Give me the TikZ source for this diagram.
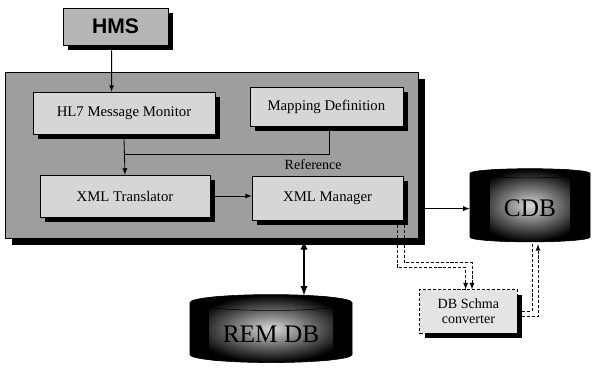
\documentclass[tikz,border=0pt]{standalone}
\usepackage{fontspec}
\setmainfont{Liberation Serif}
\setsansfont{Liberation Sans}
\usetikzlibrary{positioning,shapes,shapes.geometric,arrows,calc,shadows}
\definecolor{panelgray}{RGB}{158,158,158}
\definecolor{boxgray}{RGB}{214,214,214}
\definecolor{hmsgray}{RGB}{182,182,182}
\definecolor{convgray}{RGB}{228,228,228}

\tikzset{
  hardshadow/.style={drop shadow={shadow xshift=0.12cm,shadow yshift=-0.12cm,fill=black,opacity=1}},
  modbox/.style={draw,rectangle,fill=boxgray,hardshadow,font=\fontsize{10.5}{12}\selectfont,inner sep=2pt},
  dbdrum/.style={cylinder,shape border rotate=90,aspect=0.15,draw=black,fill=black,
    font=\fontsize{18}{20}\selectfont},
  dbglow/.style 2 args={path picture={\shade[inner color=white!85!black,outer color=black]
      ($(path picture bounding box.center)+(-#1/2,-#2/2)$) rectangle ++(#1,#2);}},
  dashlink/.style={dash pattern=on 2.2pt off 1.3pt,line width=0.6pt},
  flow/.style={-latex,line width=0.6pt},
}

\begin{document}
\begin{tikzpicture}
    \useasboundingbox (0,0) rectangle (14.8,9.225);

    % HMS source
    \node[draw,rectangle,fill=hmsgray,hardshadow,minimum width=2.63cm,minimum height=0.93cm,
          font=\sffamily\bfseries\fontsize{15}{16}\selectfont] (hms) at (2.89,8.56) {HMS};

    % system panel
    \node[draw,rectangle,fill=panelgray,
          drop shadow={shadow xshift=0.17cm,shadow yshift=-0.17cm,fill=black,opacity=1},
          minimum width=10.325cm,minimum height=4.15cm] (panel) at (5.29,5.35) {};

    % modules inside the panel
    \node[modbox,minimum width=4.55cm,minimum height=1.05cm] (hl7) at (3.1,6.4) {HL7 Message Monitor};
    \node[modbox,minimum width=3.83cm,minimum height=0.98cm] (map) at (8.16,6.56) {Mapping Definition};
    \node[modbox,minimum width=4.25cm,minimum height=1.05cm] (xtrans) at (3.125,4.325) {XML Translator};
    \node[modbox,minimum width=3.78cm,minimum height=1.1cm] (xman) at (8.19,4.275) {XML Manager};
    \node[font=\fontsize{10}{12}\selectfont,inner sep=1pt] (refl) at (7.83,5.1) {Reference};

    % databases
    \node[dbdrum,dbglow={2.0}{1.8},minimum width=3.0cm,minimum height=1.83cm] (cdb) at (13.25,4.01) {CDB};
    \node[dbdrum,dbglow={3.1}{1.6},minimum width=4.05cm,minimum height=1.7cm] (rem) at (6.775,0.875) {REM DB};

    % schema converter
    \node[draw,rectangle,dashlink,fill=convgray,hardshadow,align=center,
          minimum width=2.43cm,minimum height=1.08cm,
          font=\fontsize{10}{11}\selectfont] (conv) at (11.71,1.44) {DB Schma\\converter};

    % connectors
    \draw[flow] ($(hms.south)+(-0.1,-0.12)$) -- ($(hl7.north)+(-0.31,0)$);
    \draw[flow] ($(hl7.south)+(0,-0.12)$) -- (xtrans.north);
    \draw[line width=0.6pt] ($(map.south)+(0.08,-0.12)$) |- ($(hl7.south)!0.5!(xtrans.north)$);
    \draw[flow] ($(xtrans.east)+(0.12,0)$) -- (xtrans.east -| xman.west);
    \draw[flow] ($(cdb.west -| panel.east)+(0.17,0)$) -- (cdb.west);
    \draw[latex-latex,line width=1.3pt] ($(rem.north -| 7.6,0)+(0,1.35)$) -- ($(rem.north -| 7.6,0)+(0,-0.03)$);

    % dashed links via the converter
    \draw[dashlink,-latex] ($(xman.south east)+(-0.16,-0.12)$) |- ($(conv.north)+(-0.07,0.55)$) -- ($(conv.north)+(-0.07,0)$);
    \draw[dashlink,-latex] ($(xman.south east)+(0.02,-0.12)$) |- ($(conv.north)+(0.09,0.67)$) -- ($(conv.north)+(0.09,0)$);
    \draw[dashlink] ($(conv.east)+(0.12,0)$) -| ($(cdb.south)+(0.05,-0.05)$);
    \draw[dashlink,-latex] ($(conv.east)+(0.12,-0.13)$) -| ($(cdb.south)+(0.2,-0.05)$);
\end{tikzpicture}
\end{document}
